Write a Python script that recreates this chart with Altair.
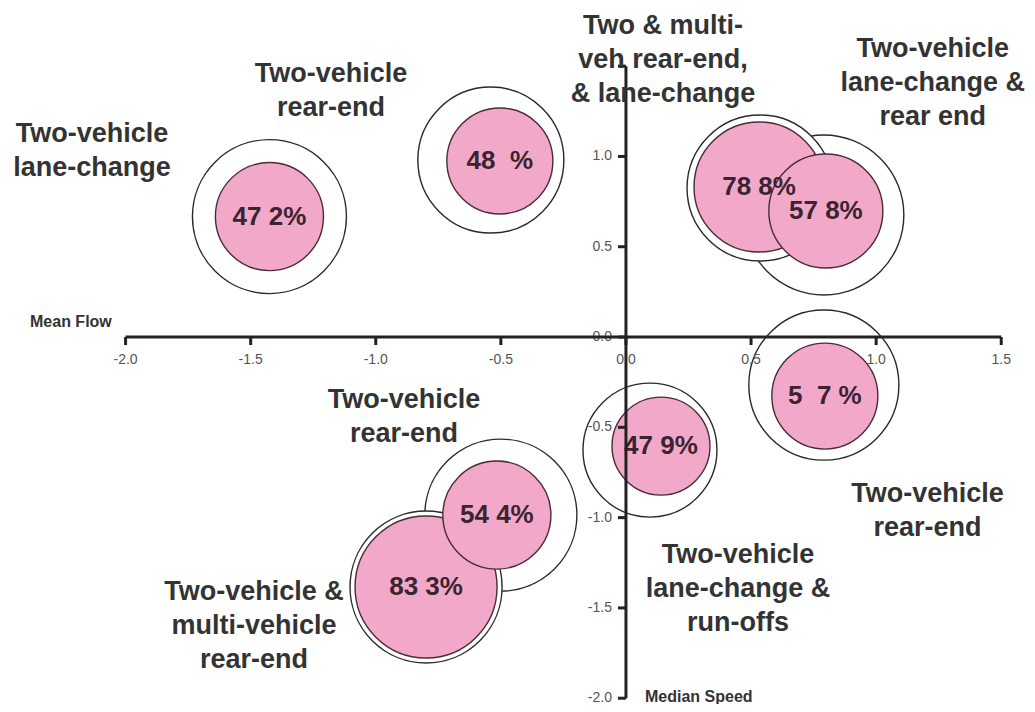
import altair as alt
import pandas as pd

# ---- data ----
share_text = ["47 2%", "48\u00a0\u00a0%", "78 8%", "57 8%", "5\u00a0\u00a07\u00a0%", "47 9%", "83 3%", "54 4%"]
core_x = [-1.425, -0.504, 0.532, 0.799, 0.795, 0.140, -0.799, -0.516]
core_y = [0.667, 0.975, 0.831, 0.698, -0.327, -0.604, -1.384, -0.986]
core_size = [29.2, 28.1, 42.3, 32.5, 28.1, 24.0, 50.4, 29.2]
ring_x = [-1.425, -0.540, 0.536, 0.791, 0.791, 0.096, -0.799, -0.500]
ring_y = [0.667, 0.980, 0.825, 0.676, -0.266, -0.626, -1.384, -0.986]
ring_size = [59.3, 53.3, 53.3, 64.0, 56.3, 44.9, 57.8, 57.8]

cat_text = [
    "Two-vehicle\nlane-change",
    "Two-vehicle\nrear-end",
    "Two & multi-\nveh rear-end,\n& lane-change",
    "Two-vehicle\nlane-change &\nrear end",
    "Two-vehicle\nrear-end",
    "Two-vehicle\nlane-change &\nrun-offs",
    "Two-vehicle\nrear-end",
    "Two-vehicle &\nmulti-vehicle\nrear-end",
]
cat_x = [-2.134, -1.179, 0.148, 1.226, 1.205, 0.448, -0.887, -1.487]
cat_y = [1.124, 1.456, 1.722, 1.595, -0.869, -1.207, -0.349, -1.412]

tick_values = [-2.0, -1.5, -1.0, -0.5, 0.0, 0.5, 1.0, 1.5]
x_tick_labels = ["-2.0", "-1.5", "-1.0", "-0.5", "0.0", "0.5", "1.0", "1.5"]
y_label_values = [-2.0, -1.5, -1.0, -0.5, 0.0, 0.5, 1.0]
y_tick_labels = ["-2.0", "-1.5", "-1.0", "-0.5", "0.0", "0.5", "1.0"]

axis_titles = ["Mean Flow", "Median Speed"]
axis_title_x = [-2.382, 0.076]
axis_title_y = [0.083, -1.993]

# ---- tables ----
idx = list(range(len(share_text)))
circles = pd.DataFrame({
    "idx": idx, "share": share_text,
    "cx": core_x, "cy": core_y, "csize": core_size,
    "rx": ring_x, "ry": ring_y, "rsize": ring_size,
})
cats = pd.DataFrame({"text": cat_text, "x": cat_x, "y": cat_y})
xt = pd.DataFrame({"v": tick_values, "lab": x_tick_labels, "zero": [0.0] * len(tick_values)})
yt = pd.DataFrame({"v": tick_values, "zero": [0.0] * len(tick_values)})
yl = pd.DataFrame({"v": y_label_values, "lab": y_tick_labels, "zero": [0.0] * len(y_label_values)})
hline = pd.DataFrame({"x": [tick_values[0]], "x2": [tick_values[-1]], "y": [0.0]})
vline = pd.DataFrame({"y": [tick_values[0]], "y2": [tick_values[-1]], "x": [0.0]})
titles = pd.DataFrame({"t": axis_titles, "x": axis_title_x, "y": axis_title_y})

XS = alt.Scale(domain=[-2.47, 1.603], nice=False, zero=False)
YS = alt.Scale(domain=[-2.032, 1.822], nice=False, zero=False)
SS = alt.Scale(domain=[0, 100], range=[0, 40000], zero=True)

FONT = "Liberation Sans"
PINK = "#F2A9C9"
INK = "#222222"

rings = alt.Chart(circles).mark_circle(
    fill="white", stroke="#2a2a2a", strokeWidth=1.4, opacity=1
).encode(
    x=alt.X("rx:Q", scale=XS, axis=None),
    y=alt.Y("ry:Q", scale=YS, axis=None),
    size=alt.Size("rsize:Q", scale=SS, legend=None),
    order=alt.Order("idx:Q", sort="descending"),
)

cores = alt.Chart(circles).mark_circle(
    fill=PINK, stroke="#4a2a38", strokeWidth=1.4, opacity=1
).encode(
    x=alt.X("cx:Q", scale=XS, axis=None),
    y=alt.Y("cy:Q", scale=YS, axis=None),
    size=alt.Size("csize:Q", scale=SS, legend=None),
    order=alt.Order("idx:Q", sort="ascending"),
)

share_lbl = alt.Chart(circles).mark_text(
    font=FONT, fontSize=26, fontWeight="bold", color="#3a2430",
    align="center", baseline="middle"
).encode(
    x=alt.X("cx:Q", scale=XS, axis=None),
    y=alt.Y("cy:Q", scale=YS, axis=None),
    text="share:N",
)

h_axis = alt.Chart(hline).mark_rule(color=INK, strokeWidth=3).encode(
    x=alt.X("x:Q", scale=XS, axis=None), x2="x2:Q",
    y=alt.Y("y:Q", scale=YS, axis=None),
)
v_axis = alt.Chart(vline).mark_rule(color=INK, strokeWidth=3).encode(
    y=alt.Y("y:Q", scale=YS, axis=None), y2="y2:Q",
    x=alt.X("x:Q", scale=XS, axis=None),
)

x_ticks = alt.Chart(xt).mark_tick(
    orient="vertical", size=8, thickness=3, color=INK, yOffset=4, opacity=1
).encode(
    x=alt.X("v:Q", scale=XS, axis=None),
    y=alt.Y("zero:Q", scale=YS, axis=None),
)
y_ticks = alt.Chart(yt).mark_tick(
    orient="horizontal", size=8, thickness=3, color=INK, xOffset=-4, opacity=1
).encode(
    y=alt.Y("v:Q", scale=YS, axis=None),
    x=alt.X("zero:Q", scale=XS, axis=None),
)

x_labels = alt.Chart(xt).mark_text(
    font=FONT, fontSize=14, color="#555555", align="center", baseline="middle", dy=23
).encode(
    x=alt.X("v:Q", scale=XS, axis=None),
    y=alt.Y("zero:Q", scale=YS, axis=None),
    text="lab:N",
)
y_labels = alt.Chart(yl).mark_text(
    font=FONT, fontSize=14, color="#555555", align="right", baseline="middle", dx=-14
).encode(
    y=alt.Y("v:Q", scale=YS, axis=None),
    x=alt.X("zero:Q", scale=XS, axis=None),
    text="lab:N",
)

cat_lbl = alt.Chart(cats).mark_text(
    font=FONT, fontSize=27, fontWeight="bold", color="#333333",
    align="center", baseline="middle", lineBreak="\n", lineHeight=34
).encode(
    x=alt.X("x:Q", scale=XS, axis=None),
    y=alt.Y("y:Q", scale=YS, axis=None),
    text="text:N",
)

title_lbl = alt.Chart(titles).mark_text(
    font=FONT, fontSize=16, fontWeight="bold", color="#333333",
    align="left", baseline="middle"
).encode(
    x=alt.X("x:Q", scale=XS, axis=None),
    y=alt.Y("y:Q", scale=YS, axis=None),
    text="t:N",
)

chart = alt.layer(
    rings, x_labels, y_labels, cores, share_lbl,
    h_axis, v_axis, x_ticks, y_ticks, cat_lbl, title_lbl
).properties(
    width=1019, height=696, padding=0,
    autosize=alt.AutoSizeParams(type="none"),
    background="white",
).configure_view(strokeWidth=0)

chart.save("out.html", embed_options={"renderer": "svg", "actions": False})
